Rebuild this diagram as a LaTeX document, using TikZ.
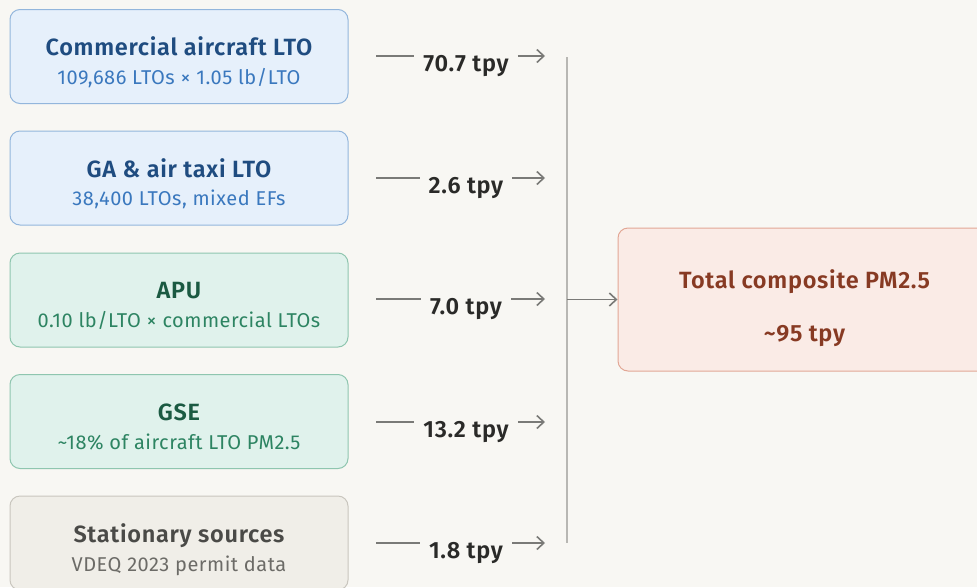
\documentclass[tikz,border=0pt]{standalone}
\usepackage{fontspec}
\setmainfont{Fira Sans}[BoldFont={Fira Sans SemiBold}]
\newfontfamily\wideA{Fira Sans}[LetterSpace=3, BoldFont={Fira Sans SemiBold}]
\newfontfamily\wideB{Fira Sans}[LetterSpace=2.5, BoldFont={Fira Sans SemiBold}]
\usetikzlibrary{arrows.meta}
\definecolor{bg}{HTML}{F8F7F3}
\definecolor{bluefill}{HTML}{E6F0FB}
\definecolor{blueedge}{HTML}{93B6DC}
\definecolor{bluetitle}{HTML}{1F4C80}
\definecolor{bluesub}{HTML}{3A78BE}
\definecolor{greenfill}{HTML}{E0F2EC}
\definecolor{greenedge}{HTML}{8FC6AF}
\definecolor{greentitle}{HTML}{1B5A42}
\definecolor{greensub}{HTML}{2D8462}
\definecolor{grayfill}{HTML}{F0EEE8}
\definecolor{grayedge}{HTML}{C9C6BE}
\definecolor{graytitle}{HTML}{4A4A47}
\definecolor{graysub}{HTML}{6C6B67}
\definecolor{redfill}{HTML}{FAEBE6}
\definecolor{rededge}{HTML}{E2A795}
\definecolor{redtext}{HTML}{873A23}
\definecolor{flowgray}{HTML}{7A7A77}
\definecolor{vgray}{HTML}{B8B7B3}
\definecolor{tpytext}{HTML}{2A2A28}
\tikzset{
  srcbox/.style={draw, rounded corners=10pt, line width=1pt, minimum width=338pt, minimum height=94pt, inner sep=0pt},
  bluebox/.style={srcbox, draw=blueedge, fill=bluefill},
  greenbox/.style={srcbox, draw=greenedge, fill=greenfill},
  graybox/.style={srcbox, draw=grayedge, fill=grayfill},
  ttl/.style={font=\wideA\bfseries\fontsize{23.5}{27}\selectfont, inner sep=0pt, anchor=base},
  subt/.style={font=\wideB\fontsize{20}{24}\selectfont, inner sep=0pt, anchor=base},
  tpy/.style={font=\wideA\bfseries\fontsize{23.5}{27}\selectfont, text=tpytext, inner xsep=9pt, inner ysep=0pt, anchor=base},
  flow/.style={draw=flowgray, line width=1.6pt},
  flowarrow/.style={flow, -{Straight Barb[length=7pt,width=13pt]}},
}
\begin{document}
\begin{tikzpicture}[x=1pt,y=-1pt]
\useasboundingbox (0,0) rectangle (977,587);
\clip (0,0) rectangle (977,587);
\fill[bg] (0,0) rectangle (977,587);

% source boxes
\node[bluebox] (b1) at (179,56.5) {};
\node[ttl, text=bluetitle] (b1t) at (179,55) {Commercial aircraft LTO};
\node[subt, text=bluesub] (b1s) at (179,84.5) {109,686 LTOs × 1.05 lb/LTO};

\node[bluebox] (b2) at (179,178) {};
\node[ttl, text=bluetitle] (b2t) at (179,177) {GA \& air taxi LTO};
\node[subt, text=bluesub] (b2s) at (179,205) {38,400 LTOs, mixed EFs};

\node[greenbox] (b3) at (179,300) {};
\node[ttl, text=greentitle] (b3t) at (179,298.5) {APU};
\node[subt, text=greensub] (b3s) at (179,327) {0.10 lb/LTO × commercial LTOs};

\node[greenbox] (b4) at (179,421.5) {};
\node[ttl, text=greentitle] (b4t) at (179,420.5) {GSE};
\node[subt, text=greensub] (b4s) at (179,449) {\textasciitilde18\% of aircraft LTO PM2.5};

\node[graybox] (b5) at (179,543) {};
\node[ttl, text=graytitle] (b5t) at (179,542) {Stationary sources};
\node[subt, text=graysub] (b5s) at (179,571) {VDEQ 2023 permit data};

% total box
\node[draw=rededge, fill=redfill, rounded corners=10pt, line width=1pt, minimum width=373pt, minimum height=143pt, inner sep=0pt] (tot) at (804.5,299.5) {};
\node[ttl, text=redtext] (tott) at (804.5,288) {Total composite PM2.5};
\node[ttl, text=redtext] (totv) at (804.5,341) {\textasciitilde95 tpy};

% flows
\foreach \i/\y/\lbl in {1/56/70.7 tpy, 2/178/2.6 tpy, 3/299/7.0 tpy, 4/422/13.2 tpy, 5/543/1.8 tpy}{
  \coordinate (s\i) at (376,\y);
  \coordinate (e\i) at (545,\y);
  \node[tpy] (t\i) at (466,\y+15) {\lbl};
  \draw[flow] (s\i) -- (s\i -| t\i.west);
  \draw[flowarrow] (s\i -| t\i.east) -- (e\i);
}

% collector
\coordinate (vt) at (567,57);
\coordinate (vb) at (567,543);
\draw[draw=vgray, line width=1.4pt] (vt) -- (vb);
\draw[flowarrow] (vt |- tot.west) -- (tot.west);
\end{tikzpicture}
\end{document}
